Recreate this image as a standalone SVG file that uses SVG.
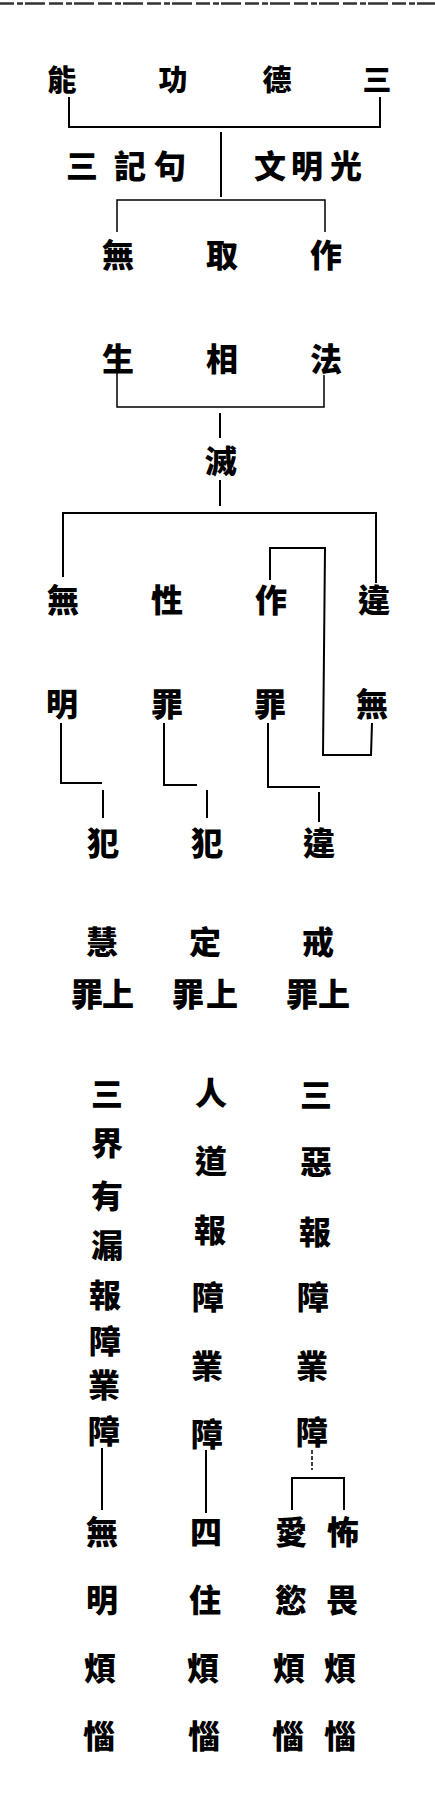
<svg xmlns="http://www.w3.org/2000/svg" width="435" height="1800" viewBox="0 0 435 1800">
<style>
text{font-family:"Noto Sans CJK TC","Noto Sans CJK JP",sans-serif;font-weight:900;fill:#000;text-anchor:middle;dominant-baseline:central}
.s{font-size:29px}
.l{font-size:32px}
.c line,.c polyline{stroke:#000;stroke-width:2;fill:none}
.c .t{stroke-width:1.5}
</style>
<rect width="435" height="1800" fill="#fff"/>
<line x1="0" y1="3.5" x2="435" y2="3.5" stroke="#333" stroke-width="2.5" stroke-dasharray="14 3 6 2 20 4"/>
<g class="c" id="connectors">
<polyline points="69,97 69,127 380,127 380,97"/>
<line x1="221" y1="132" x2="221" y2="197"/>
<polyline class="t" points="117,232 117,200 325,200 325,232"/>
<polyline class="t" points="117,373 117,407 324,407 324,375"/>
<line x1="220" y1="413" x2="220" y2="438"/>
<line x1="220" y1="480" x2="220" y2="506"/>
<polyline points="63,577 63,513 376,513 376,583"/>
<polyline points="270,580 270,548 325,548 323,755 371,755 372,723"/>
<polyline points="61,723 61,783 102,783"/>
<line x1="103" y1="790" x2="103" y2="818"/>
<polyline points="164,723 164,785 197,785"/>
<line x1="207" y1="790" x2="207" y2="818"/>
<polyline points="268,723 268,787 320,787"/>
<line x1="319" y1="792" x2="319" y2="822"/>
<line x1="102" y1="1448" x2="102" y2="1510"/>
<line x1="206" y1="1450" x2="206" y2="1513"/>
<line class="t" x1="312" y1="1450" x2="312" y2="1470" stroke-dasharray="4 2"/>
<polyline points="292,1510 292,1478 344,1478 344,1510"/>
</g>
<g id="n-top"><text class="s" x="62" y="78">能</text><text class="s" x="173" y="78">功</text><text class="s" x="277" y="78">德</text><text class="s" x="377" y="78">三</text></g>
<g id="n-sanjiju"><text class="l" x="82" y="164">三</text><text class="l" x="130" y="164">記</text><text class="l" x="170" y="164">句</text></g>
<g id="n-wenmingguang"><text class="l" x="270" y="164">文</text><text class="l" x="307" y="164">明</text><text class="l" x="346" y="164">光</text></g>
<g id="n-wuquzuo"><text class="l" x="118" y="253">無</text><text class="l" x="222" y="253">取</text><text class="l" x="326" y="253">作</text></g>
<g id="n-shengxiangfa"><text class="l" x="118" y="357">生</text><text class="l" x="222" y="357">相</text><text class="l" x="326" y="357">法</text></g>
<g id="n-mie"><text class="l" x="221" y="459">滅</text></g>
<g id="n-wuming"><text class="l" x="63" y="598">無</text><text class="l" x="62" y="702">明</text></g>
<g id="n-xingzui"><text class="l" x="167" y="598">性</text><text class="l" x="167" y="702">罪</text></g>
<g id="n-zuozui"><text class="l" x="271" y="598">作</text><text class="l" x="270" y="702">罪</text></g>
<g id="n-weiwu"><text class="l" x="374" y="598">違</text><text class="l" x="372" y="702">無</text></g>
<g id="n-fan1"><text class="l" x="103" y="841">犯</text></g>
<g id="n-fan2"><text class="l" x="207" y="841">犯</text></g>
<g id="n-wei"><text class="l" x="319" y="841">違</text></g>
<g id="n-hui"><text class="l" x="102" y="940">慧</text><text class="l" x="87" y="992">罪</text><text class="l" x="118" y="992">上</text></g>
<g id="n-ding"><text class="l" x="205" y="940">定</text><text class="l" x="188" y="992">罪</text><text class="l" x="222" y="992">上</text></g>
<g id="n-jie"><text class="l" x="318" y="940">戒</text><text class="l" x="302" y="992">罪</text><text class="l" x="334" y="992">上</text></g>
<g id="n-col1"><text class="l" x="107" y="1092">三</text><text class="l" x="107" y="1141">界</text><text class="l" x="107" y="1194">有</text><text class="l" x="107" y="1243">漏</text><text class="l" x="105" y="1293">報</text><text class="l" x="105" y="1339">障</text><text class="l" x="104" y="1383">業</text><text class="l" x="104" y="1429">障</text></g>
<g id="n-col2"><text class="l" x="211" y="1091">人</text><text class="l" x="211" y="1159">道</text><text class="l" x="210" y="1228">報</text><text class="l" x="208" y="1295">障</text><text class="l" x="207" y="1364">業</text><text class="l" x="207" y="1432">障</text></g>
<g id="n-col3"><text class="l" x="316" y="1093">三</text><text class="l" x="316" y="1160">惡</text><text class="l" x="315" y="1230">報</text><text class="l" x="313" y="1295">障</text><text class="l" x="312" y="1364">業</text><text class="l" x="312" y="1430">障</text></g>
<g id="n-wuming2"><text class="l" x="102" y="1530">無</text><text class="l" x="102" y="1598">明</text><text class="l" x="100" y="1666">煩</text><text class="l" x="99" y="1734">惱</text></g>
<g id="n-sizhu"><text class="l" x="206" y="1530">四</text><text class="l" x="205" y="1598">住</text><text class="l" x="203" y="1666">煩</text><text class="l" x="204" y="1734">惱</text></g>
<g id="n-aiyu"><text class="l" x="291" y="1530">愛</text><text class="l" x="291" y="1598">慾</text><text class="l" x="289" y="1666">煩</text><text class="l" x="288" y="1734">惱</text></g>
<g id="n-buwei"><text class="l" x="343" y="1530">怖</text><text class="l" x="342" y="1598">畏</text><text class="l" x="340" y="1666">煩</text><text class="l" x="340" y="1734">惱</text></g>
</svg>
